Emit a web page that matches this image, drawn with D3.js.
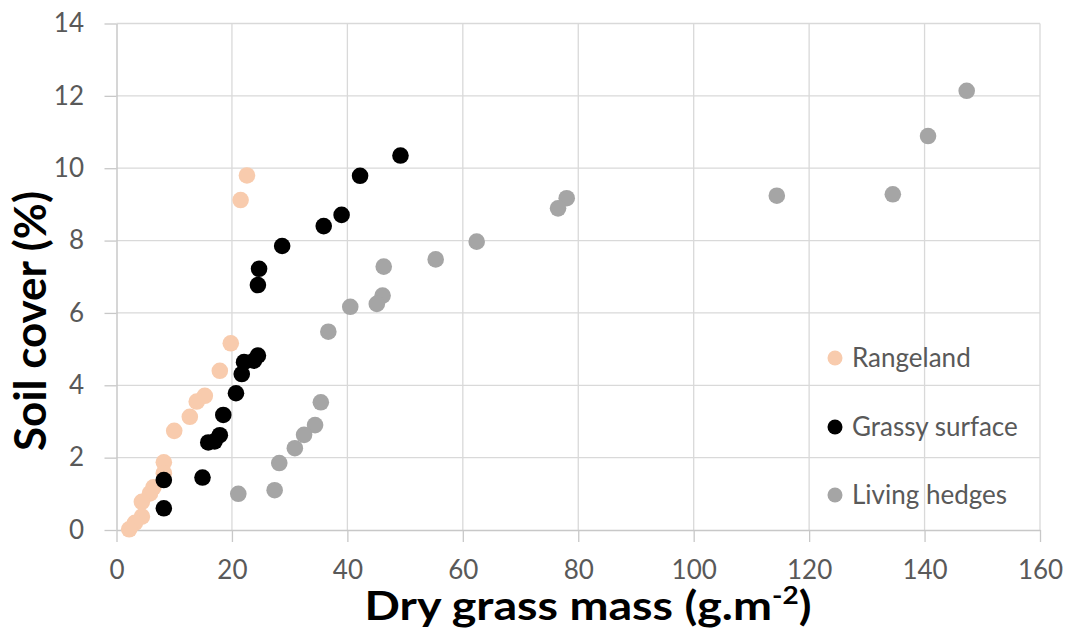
<!DOCTYPE html>
<html>
<head>
<meta charset="utf-8">
<script src="https://cdn.jsdelivr.net/npm/d3@7"></script>
<style>
  body { margin: 0; background: #fff; }
  text { font-family: Lato, "Open Sans", sans-serif; }
</style>
</head>
<body>
<script>
// data
const seriesNames = ["Rangeland", "Grassy surface", "Living hedges"];
const seriesColors = ["#f8cbad", "#000000", "#a5a5a5"];

const rangelandX = [22.6, 21.5, 19.8, 17.9, 15.3, 13.9, 12.7, 10.0, 8.2, 8.2, 6.4, 5.8, 4.4, 4.4, 3.2, 2.2];
const rangelandY = [9.8, 9.12, 5.16, 4.40, 3.71, 3.55, 3.13, 2.74, 1.87, 1.57, 1.18, 1.01, 0.78, 0.37, 0.2, 0.02];

const grassyX = [49.2, 42.2, 39.0, 35.9, 28.7, 24.7, 24.5, 24.5, 23.8, 22.1, 21.7, 20.7, 18.5, 17.9, 17.0, 15.9, 14.9, 8.2, 8.2];
const grassyY = [10.35, 9.79, 8.71, 8.40, 7.85, 7.22, 6.77, 4.82, 4.68, 4.64, 4.31, 3.78, 3.18, 2.62, 2.45, 2.42, 1.45, 1.38, 0.6];

const hedgesX = [147.3, 140.6, 134.5, 114.4, 78.0, 76.5, 62.4, 55.3, 46.3, 46.1, 45.1, 40.5, 36.7, 35.4, 34.4, 32.5, 30.9, 28.2, 27.4, 21.1];
const hedgesY = [12.14, 10.89, 9.28, 9.24, 9.17, 8.89, 7.97, 7.48, 7.28, 6.48, 6.25, 6.17, 5.48, 3.53, 2.90, 2.63, 2.26, 1.85, 1.10, 1.0];

const xTicks = [0, 20, 40, 60, 80, 100, 120, 140, 160];
const yTicks = [0, 2, 4, 6, 8, 10, 12, 14];

const w = 1073;
const h = 631;

const svg = d3.select('body')
              .append('svg')
              .attr('width', w)
              .attr('height', h);

svg.append('rect').attr('width', w).attr('height', h).attr('fill', '#fff');

const xScale = d3.scaleLinear().domain([0, 160]).range([116.5, 1040]);
const yScale = d3.scaleLinear().domain([0, 14]).range([530, 23.5]);

// gridlines
svg.append('g')
   .selectAll('line')
   .data(yTicks.slice(1))
   .enter()
   .append('line')
   .attr('x1', xScale(0)).attr('x2', xScale(160))
   .attr('y1', d => yScale(d)).attr('y2', d => yScale(d))
   .attr('stroke', '#d9d9d9').attr('stroke-width', 1.3);
svg.append('g')
   .selectAll('line')
   .data(xTicks.slice(1))
   .enter()
   .append('line')
   .attr('x1', d => xScale(d)).attr('x2', d => xScale(d))
   .attr('y1', yScale(14)).attr('y2', yScale(0))
   .attr('stroke', '#d9d9d9').attr('stroke-width', 1.3);

// axes
const xAxis = d3.axisBottom(xScale).tickValues(xTicks).tickSize(12).tickSizeOuter(0).tickPadding(19);
const gx = svg.append('g')
   .attr('transform', 'translate(0,' + yScale(0) + ')')
   .call(xAxis);
const yAxis = d3.axisLeft(yScale).tickValues(yTicks).tickSize(12).tickSizeOuter(0).tickPadding(20.5);
const gy = svg.append('g')
   .attr('transform', 'translate(' + xScale(0) + ',0)')
   .call(yAxis);
[gx, gy].forEach(g => {
  g.select('.domain').attr('stroke', '#c8c8c8').attr('stroke-width', 1.5);
  g.selectAll('.tick line').attr('stroke', '#c8c8c8').attr('stroke-width', 1.3);
  g.selectAll('.tick text')
   .attr('fill', '#595959')
   .style('font-family', 'Lato, sans-serif')
   .style('font-size', '26px');
});

// points
const series = [
  { x: rangelandX, y: rangelandY },
  { x: grassyX, y: grassyY },
  { x: hedgesX, y: hedgesY }
];
series.forEach((s, k) => {
  svg.append('g')
     .selectAll('circle')
     .data(s.x.map((v, i) => [v, s.y[i]]))
     .enter()
     .append('circle')
     .attr('cx', d => xScale(d[0]))
     .attr('cy', d => yScale(d[1]))
     .attr('r', 8.3)
     .attr('fill', seriesColors[k]);
});

// legend
const legendY = [358, 427, 495];
const legend = svg.append('g');
seriesNames.forEach((name, k) => {
  legend.append('circle')
        .attr('cx', 835).attr('cy', legendY[k]).attr('r', 7.5)
        .attr('fill', seriesColors[k]);
  legend.append('text')
        .attr('x', 852).attr('y', legendY[k] + 9)
        .attr('fill', '#595959')
        .style('font-size', '26px')
        .text(name);
});

// axis titles
svg.append('text')
   .attr('transform', 'translate(46,321) rotate(-90)')
   .attr('text-anchor', 'middle')
   .style('font-size', '44px')
   .style('font-weight', 'bold')
   .text('Soil cover (%)');

const xt = svg.append('text')
   .attr('x', 588).attr('y', 620)
   .attr('text-anchor', 'middle')
   .style('font-size', '40px')
   .style('font-weight', 'bold');
xt.append('tspan').text('Dry grass mass (g.m');
xt.append('tspan').attr('dy', -16).style('font-size', '24px').text('-2');
xt.append('tspan').attr('dy', 16).text(')');
// the reference title is wider than Lato at this size, stretch it to ~447px
const bw = xt.node().getBBox().width;
const sx = 447 / bw;
xt.attr('transform', 'translate(588,0) scale(' + sx + ',1) translate(-588,0)');
</script>
</body>
</html>
